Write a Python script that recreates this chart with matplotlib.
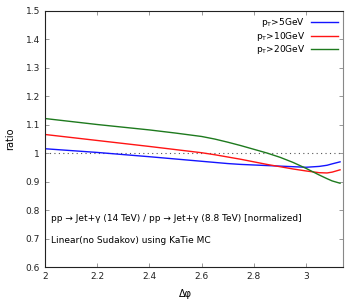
import matplotlib.pyplot as plt
import numpy as np

# values
dphi = [2.0, 2.2, 2.4, 2.5, 2.6, 2.65, 2.7, 2.75, 2.8, 2.85, 2.9, 2.95, 3.0, 3.05, 3.08, 3.1, 3.13]
r_pt5 = [1.016, 1.003, 0.988, 0.980, 0.972, 0.968, 0.964, 0.961, 0.959, 0.957, 0.955, 0.953,
         0.951, 0.954, 0.958, 0.963, 0.970]
r_pt10 = [1.066, 1.045, 1.024, 1.013, 1.002, 0.995, 0.987, 0.979, 0.970, 0.961, 0.953, 0.945,
          0.938, 0.932, 0.931, 0.934, 0.942]
r_pt20 = [1.122, 1.101, 1.082, 1.071, 1.059, 1.050, 1.039, 1.027, 1.014, 1.001, 0.986, 0.968,
          0.947, 0.924, 0.911, 0.903, 0.895]
labels = [r"p$_\mathrm{T}$>5GeV", r"p$_\mathrm{T}$>10GeV", r"p$_\mathrm{T}$>20GeV"]
colors = ["#1414ff", "#ff1414", "#1e7a1e"]

xticks = [2, 2.2, 2.4, 2.6, 2.8, 3]
xticklabels = ["2", "2.2", "2.4", "2.6", "2.8", "3"]
yticks = [0.6, 0.7, 0.8, 0.9, 1.0, 1.1, 1.2, 1.3, 1.4, 1.5]
yticklabels = ["0.6", "0.7", "0.8", "0.9", "1", "1.1", "1.2", "1.3", "1.4", "1.5"]

plt.rcParams['font.family'] = ['DejaVu Sans']
plt.rcParams['mathtext.fontset'] = 'dejavusans'

fig = plt.figure(figsize=(3.6, 3.0), dpi=100)
ax = fig.add_axes([0.125, 0.109, 0.828, 0.855])

ax.axhline(1.0, color="#555555", lw=0.8, ls=(0, (1, 3)), zorder=1)
for ys, lab, c in zip([r_pt5, r_pt10, r_pt20], labels, colors):
    ax.plot(dphi, ys, color=c, lw=1.0, label=lab, zorder=2)

ax.set_xlim(2, np.pi)
ax.set_ylim(0.6, 1.5)
ax.set_xticks(xticks)
ax.set_xticklabels(xticklabels)
ax.set_yticks(yticks)
ax.set_yticklabels(yticklabels)
ax.tick_params(direction="in", length=3, width=0.6, labelsize=6.5,
               top=True, right=True, colors="#888888", labelcolor="#222222")
for s in ["left", "bottom", "top"]:
    ax.spines[s].set_color("#222222")
    ax.spines[s].set_linewidth(0.8)
ax.spines["right"].set_color("#888888")
ax.spines["right"].set_linewidth(0.8)

ax.set_xlabel("Δφ", fontsize=7)
ax.set_ylabel("ratio", fontsize=7)
ax.xaxis.set_label_coords(0.47, -0.085)
ax.yaxis.set_label_coords(-0.1, 0.5)

leg = ax.legend(loc="upper right", markerfirst=False, frameon=False, fontsize=6.5,
                handlelength=3.0, handletextpad=0.6, labelspacing=0.05,
                borderaxespad=0.2)
for t in leg.get_texts():
    t.set_ha("right")

ax.text(0.02, 0.19, "pp → Jet+γ (14 TeV) / pp → Jet+γ (8.8 TeV) [normalized]",
        transform=ax.transAxes, fontsize=6.5, va="center")
ax.text(0.02, 0.105, "Linear(no Sudakov) using KaTie MC",
        transform=ax.transAxes, fontsize=6.5, va="center")

fig.savefig("out.png", dpi=100)
